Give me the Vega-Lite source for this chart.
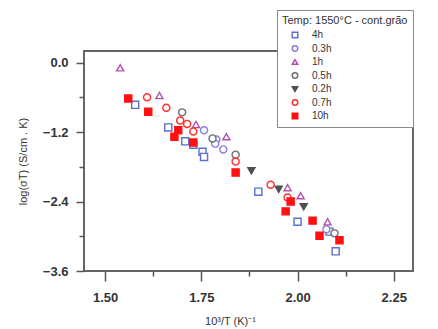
{
  "$schema": "https://vega.github.io/schema/vega-lite/v6.json",
  "width": 329,
  "height": 220,
  "autosize": {"type": "none"},
  "padding": {"left": 84, "top": 51, "right": 25, "bottom": 58},
  "background": "white",
  "config": {
    "view": {"stroke": "#666", "strokeWidth": 2},
    "font": "Liberation Sans"
  },
  "data": {
    "values": [
      {"t": "4h", "x": 1.578, "y": -0.73},
      {"t": "4h", "x": 1.664, "y": -1.12},
      {"t": "4h", "x": 1.708, "y": -1.36},
      {"t": "4h", "x": 1.729, "y": -1.42},
      {"t": "4h", "x": 1.753, "y": -1.54},
      {"t": "4h", "x": 1.757, "y": -1.63},
      {"t": "4h", "x": 1.898, "y": -2.23},
      {"t": "4h", "x": 2.0, "y": -2.75},
      {"t": "4h", "x": 2.083, "y": -2.92},
      {"t": "4h", "x": 2.099, "y": -3.26},
      {"t": "0.3h", "x": 1.757, "y": -1.17},
      {"t": "0.3h", "x": 1.789, "y": -1.33},
      {"t": "0.3h", "x": 1.807, "y": -1.50},
      {"t": "0.3h", "x": 1.786, "y": -1.40},
      {"t": "0.3h", "x": 2.075, "y": -2.88},
      {"t": "1h", "x": 1.539, "y": -0.09},
      {"t": "1h", "x": 1.641, "y": -0.57},
      {"t": "1h", "x": 1.736, "y": -1.07},
      {"t": "1h", "x": 1.815, "y": -1.28},
      {"t": "1h", "x": 1.974, "y": -2.16},
      {"t": "1h", "x": 2.008, "y": -2.30},
      {"t": "1h", "x": 2.078, "y": -2.75},
      {"t": "0.5h", "x": 1.70, "y": -0.86},
      {"t": "0.5h", "x": 1.779, "y": -1.31},
      {"t": "0.5h", "x": 1.839, "y": -1.59},
      {"t": "0.5h", "x": 2.096, "y": -2.95},
      {"t": "0.2h", "x": 1.880, "y": -1.87},
      {"t": "0.2h", "x": 1.951, "y": -2.19},
      {"t": "0.2h", "x": 2.016, "y": -2.49},
      {"t": "0.7h", "x": 1.609, "y": -0.60},
      {"t": "0.7h", "x": 1.659, "y": -0.78},
      {"t": "0.7h", "x": 1.695, "y": -1.00},
      {"t": "0.7h", "x": 1.713, "y": -1.06},
      {"t": "0.7h", "x": 1.729, "y": -1.19},
      {"t": "0.7h", "x": 1.839, "y": -1.71},
      {"t": "0.7h", "x": 1.930, "y": -2.11},
      {"t": "0.7h", "x": 1.974, "y": -2.33},
      {"t": "10h", "x": 1.560, "y": -0.62},
      {"t": "10h", "x": 1.612, "y": -0.85},
      {"t": "10h", "x": 1.690, "y": -1.17},
      {"t": "10h", "x": 1.680, "y": -1.28},
      {"t": "10h", "x": 1.729, "y": -1.38},
      {"t": "10h", "x": 1.839, "y": -1.90},
      {"t": "10h", "x": 1.982, "y": -2.40},
      {"t": "10h", "x": 1.969, "y": -2.57},
      {"t": "10h", "x": 2.039, "y": -2.73},
      {"t": "10h", "x": 2.057, "y": -2.99},
      {"t": "10h", "x": 2.109, "y": -3.07}
    ]
  },
  "layer": [
    {
      "mark": {"type": "point", "opacity": 0},
      "encoding": {
        "x": {
          "field": "x", "type": "quantitative",
          "scale": {"domain": [1.445, 2.3], "nice": false, "zero": false},
          "axis": {
            "title": null, "orient": "bottom",
            "values": [1.625, 1.875, 2.125],
            "labels": false, "grid": false, "domain": false,
            "tickColor": "#555", "tickWidth": 1.5, "tickSize": 5
          }
        },
        "y": {
          "field": "y", "type": "quantitative",
          "scale": {"domain": [-3.6, 0.2], "nice": false, "zero": false},
          "axis": {
            "title": null, "orient": "left",
            "values": [-0.6, -1.8, -3.0],
            "labels": false, "grid": false, "domain": false,
            "tickColor": "#555", "tickWidth": 1.5, "tickSize": 5
          }
        }
      }
    },
    {
      "mark": {"type": "point", "size": 50, "strokeWidth": 1.4, "opacity": 1},
      "encoding": {
        "x": {
          "field": "x", "type": "quantitative",
          "scale": {"domain": [1.445, 2.3], "nice": false, "zero": false},
          "axis": {
            "title": "10³/T (K)⁻¹", "orient": "bottom",
            "values": [1.5, 1.75, 2.0, 2.25],
            "format": ".2f",
            "grid": false, "domain": false,
            "tickColor": "#555", "tickWidth": 1.5, "tickSize": 10,
            "labelFontSize": 13, "labelFontWeight": "bold", "labelColor": "#333", "labelPadding": 10,
            "titleFontSize": 11, "titleFontWeight": "normal", "titleColor": "#333", "titlePadding": 11,
            "titleX": 146
          }
        },
        "y": {
          "field": "y", "type": "quantitative",
          "scale": {"domain": [-3.6, 0.2], "nice": false, "zero": false},
          "axis": {
            "title": "log(σT) (S/cm . K)", "orient": "left",
            "values": [0, -1.2, -2.4, -3.6],
            "format": ".1f",
            "grid": false, "domain": false,
            "tickColor": "#555", "tickWidth": 1.5, "tickSize": 8,
            "labelFontSize": 13, "labelFontWeight": "bold", "labelColor": "#333", "labelPadding": 8,
            "titleFontSize": 11, "titleFontWeight": "normal", "titleColor": "#333", "titlePadding": 14
          }
        },
        "shape": {
          "field": "t", "type": "nominal",
          "scale": {
            "domain": ["4h", "0.3h", "1h", "0.5h", "0.2h", "0.7h", "10h"],
            "range": ["square", "circle", "triangle-up", "circle", "triangle-down", "circle", "square"]
          },
          "legend": {
            "title": "Temp: 1550°C - cont.grão",
            "orient": "none", "legendX": 193, "legendY": -41,
            "fillColor": "white", "strokeColor": "#888", "padding": 5,
            "titleFontSize": 11, "titleFontWeight": "normal", "titleColor": "#333", "titlePadding": 4,
            "labelFontSize": 10, "labelColor": "#333", "labelOffset": 12,
            "symbolSize": 30, "symbolOffset": 8, "rowPadding": 1.5
          }
        },
        "stroke": {
          "field": "t", "type": "nominal",
          "scale": {
            "domain": ["4h", "0.3h", "1h", "0.5h", "0.2h", "0.7h", "10h"],
            "range": ["#5a6fd0", "#8a80e0", "#b050b0", "#707070", "#505050", "#ff3030", "#ff1010"]
          }
        },
        "fill": {
          "field": "t", "type": "nominal",
          "scale": {
            "domain": ["4h", "0.3h", "1h", "0.5h", "0.2h", "0.7h", "10h"],
            "range": ["white", "white", "white", "white", "#505050", "white", "#ff1010"]
          }
        }
      }
    }
  ],
  "resolve": {"axis": {"x": "independent", "y": "independent"}}
}
